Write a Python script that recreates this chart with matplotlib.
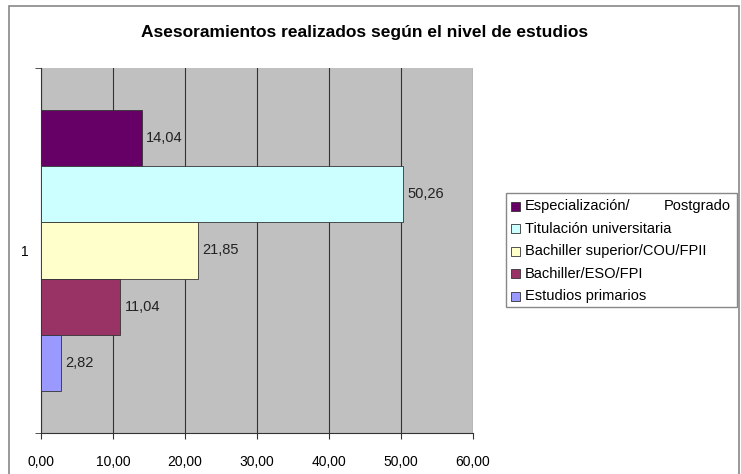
import matplotlib
matplotlib.use("Agg")
import matplotlib.pyplot as plt
from matplotlib.patches import Rectangle

plt.rcParams['font.family'] = ['Liberation Sans', 'DejaVu Sans']

# datos del grafico (de arriba a abajo)
niveles = ['Especialización/ Postgrado', 'Titulación universitaria',
           'Bachiller superior/COU/FPII', 'Bachiller/ESO/FPI', 'Estudios primarios']
valores = [14.04, 50.26, 21.85, 11.04, 2.82]
colores = ['#660066', '#CCFFFF', '#FFFFCC', '#993366', '#9999FF']
xticks = [0, 10, 20, 30, 40, 50, 60]

W, H = 741, 474
fig = plt.figure(figsize=(W / 100, H / 100), dpi=100)

def px(x, y):
    # pixeles (desde arriba a la izquierda) -> coordenadas de figura
    return x / W, 1 - y / H

fig.patches.append(Rectangle((9 / W, -0.01), 730 / W, 1 - 6 / H + 0.01,
                             transform=fig.transFigure, fill=False,
                             edgecolor='#888888', lw=1.2))

ax = fig.add_axes([41 / W, 41 / H, 432 / W, 365 / H])
ax.set_facecolor('#C0C0C0')

n = len(valores)
h = 1 / (n + 1.5)
for i, (v, c) in enumerate(zip(valores, colores)):
    y = (n - 1) / 2 * h - i * h
    ax.barh(y, v, height=h, color=c, edgecolor='#333333', lw=0.6, zorder=3)
    ax.annotate(f'{v:.2f}'.replace('.', ','), (v, y), xytext=(3, 0),
                textcoords='offset points', va='center', ha='left',
                fontsize=10.5, color='#222222', zorder=4)

ax.set_xlim(0, 60)
ax.set_ylim(-0.5, 0.5)
ax.set_xticks(xticks)
ax.set_xticklabels([f'{t:.2f}'.replace('.', ',') for t in xticks], fontsize=10)
ax.set_yticks([0])
ax.set_yticklabels(['1'], fontsize=10)
ax.set_yticks([-0.5, 0.5], minor=True)
ax.tick_params(axis='y', which='major', length=0, pad=9)
ax.tick_params(axis='y', which='minor', length=4, color='#333333')
ax.tick_params(axis='x', length=4, color='#333333', pad=12)
ax.grid(axis='x', color='#333333', lw=0.8, zorder=1)
for s in ['top', 'right']:
    ax.spines[s].set_visible(False)
ax.spines['left'].set_color('#333333')
ax.spines['bottom'].set_color('#333333')

fig.text(*px(365, 33), 'Asesoramientos realizados según el nivel de estudios',
         ha='center', va='center', fontsize=12.5, fontweight='bold')

# leyenda hecha a mano (texto justificado como en Excel)
x0, y0 = px(506, 307)
x1, y1 = px(737, 193)
fig.patches.append(Rectangle((x0, y0), x1 - x0, y1 - y0, transform=fig.transFigure,
                             facecolor='white', edgecolor='#888888', lw=1.0))
for i, (lab, c) in enumerate(zip(niveles, colores)):
    yc = 206 + 22.6 * i
    sx, sy = px(511, yc + 4.5)
    fig.patches.append(Rectangle((sx, sy), 9 / W, 9 / H, transform=fig.transFigure,
                                 facecolor=c, edgecolor='#333333', lw=0.6))
    if i == 0:
        a, b = lab.split(' ')
        fig.text(*px(525, yc), a, ha='left', va='center', fontsize=10.5)
        fig.text(*px(731, yc), b, ha='right', va='center', fontsize=10.5)
    else:
        fig.text(*px(525, yc), lab, ha='left', va='center', fontsize=10.5)

fig.savefig('out.png', dpi=100)
